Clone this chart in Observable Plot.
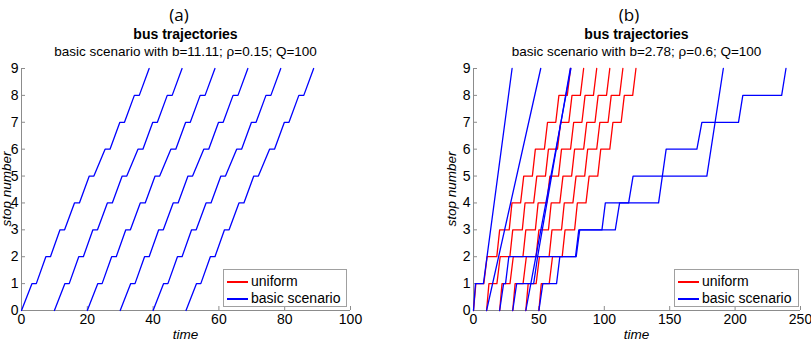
<!DOCTYPE html>
<html>
<head>
<meta charset="utf-8">
<script src="https://cdn.jsdelivr.net/npm/d3@7"></script>
<script src="https://cdn.jsdelivr.net/npm/@observablehq/plot@0.6"></script>
<style>
  body { margin: 0; background: #fff; }
  #fig { position: relative; width: 811px; height: 350px; overflow: hidden; background: #fff;
         font-family: "Liberation Sans", Arial, sans-serif; color: #000; }
  #fig > .panel { position: absolute; top: 0; }
  .txt { position: absolute; white-space: nowrap; line-height: 1; transform: translateX(-50%); }
  .tag { font-family: "Open Sans", "Liberation Sans", sans-serif; font-size: 17px; }
  .ttl { font-weight: bold; font-size: 14px; }
  .sub { font-size: 13.5px; }
  .xlab { font-size: 13.5px; font-style: italic; }
  .ylab { position: absolute; font-size: 13.5px; font-style: italic; white-space: nowrap; line-height: 1;
          transform: translate(-50%, -50%) rotate(-90deg); }
  .legend { position: absolute; border: 1px solid #a0a0a0; background: #fff; font-size: 14px; box-sizing: border-box; }
  .legend .row { position: absolute; left: 0; height: 16px; line-height: 16px; white-space: nowrap; }
  .legend .sw { position: absolute; left: 3px; top: 8px; width: 21px; height: 1.5px; }
  .legend .lb { position: absolute; left: 27px; top: 0; }
</style>
</head>
<body>
<div id="fig"></div>
<script>
// stop sequence of one trajectory: leave stop 0, then arrive/depart at stops 1..8, arrive at 9
const stopSeq = [0, 1, 1, 2, 2, 3, 3, 4, 4, 5, 5, 6, 6, 7, 7, 8, 8, 9];

// (a) basic scenario, b = 11.11 — departure/arrival times per bus, matching stopSeq
const basicA = [
  [0, 3.2, 4.5, 7.4, 8.8, 11.7, 13.1, 16.1, 17.6, 20.6, 22.0, 25.4, 26.9, 29.9, 31.3, 34.3, 35.8, 38.8],
  [10, 13.2, 14.5, 17.4, 18.8, 21.7, 23.1, 26.1, 27.6, 30.6, 32.0, 35.4, 36.9, 39.9, 41.3, 44.3, 45.8, 48.8],
  [20, 23.2, 24.5, 27.4, 28.8, 31.7, 33.1, 36.1, 37.6, 40.6, 42.0, 45.4, 46.9, 49.9, 51.3, 54.3, 55.8, 58.8],
  [30, 33.2, 34.5, 37.4, 38.8, 41.7, 43.1, 46.1, 47.6, 50.6, 52.0, 55.4, 56.9, 59.9, 61.3, 64.3, 65.8, 68.8],
  [40, 43.2, 44.5, 47.4, 48.8, 51.7, 53.1, 56.1, 57.6, 60.6, 62.0, 65.4, 66.9, 69.9, 71.3, 74.3, 75.8, 78.8],
  [50, 53.2, 54.5, 57.4, 58.8, 61.7, 63.1, 66.1, 67.6, 70.6, 72.0, 75.4, 76.9, 79.9, 81.3, 84.3, 85.8, 88.8]
];

// (b) uniform schedule — times per bus, matching stopSeq
const uniformB = [
  [0, 1.8, 7.9, 10.4, 17.8, 20.0, 27.3, 29.4, 36.0, 38.4, 45.0, 47.3, 54.2, 56.6, 62.9, 65.3, 71.7, 74.2],
  [10, 11.8, 17.9, 20.4, 27.8, 30.0, 37.3, 39.4, 46.0, 48.4, 55.0, 57.3, 64.2, 66.6, 72.9, 75.3, 81.7, 84.2],
  [20, 21.8, 27.9, 30.4, 37.8, 40.0, 47.3, 49.4, 56.0, 58.4, 65.0, 67.3, 74.2, 76.6, 82.9, 85.3, 91.7, 94.2],
  [30, 31.8, 37.9, 40.4, 47.8, 50.0, 57.3, 59.4, 66.0, 68.4, 75.0, 77.3, 84.2, 86.6, 92.9, 95.3, 101.7, 104.2],
  [40, 41.8, 47.9, 50.4, 57.8, 60.0, 67.3, 69.4, 76.0, 78.4, 85.0, 87.3, 94.2, 96.6, 102.9, 105.3, 111.7, 114.2],
  [50, 51.8, 57.9, 60.4, 67.8, 70.0, 77.3, 79.4, 86.0, 88.4, 95.0, 97.3, 104.2, 106.6, 112.9, 115.3, 121.7, 124.2]
];

// (b) basic scenario, b = 2.78 — irregular trajectories: times and the stops reached
const basicBTimes = [
  [0, 1.5, 7.6, 29.5],
  [10, 51.4],
  [20, 23.0, 24.5, 27.0, 78.0, 80.5, 98.2, 100.8, 118.6, 122.0, 178.4, 191.0],
  [30, 33.0, 46.0, 49.0, 74.0],
  [40, 74.5],
  [50, 53.0, 63.5, 66.0, 78.5, 81.2, 108.4, 111.7, 141.5, 147.3, 170.8, 174.6, 202.6, 205.9, 235.6, 238.9]
];
const basicBStops = [
  [0, 1, 1, 9],
  [0, 9],
  [0, 1, 1, 2, 2, 3, 3, 4, 4, 5, 5, 9],
  [0, 1, 1, 2, 9],
  [0, 9],
  [0, 1, 1, 2, 2, 3, 3, 4, 4, 6, 6, 7, 7, 8, 8, 9]
];

const ticksA = [0, 20, 40, 60, 80, 100];
const ticksB = [0, 50, 100, 150, 200, 250];
const stopTicks = [0, 1, 2, 3, 4, 5, 6, 7, 8, 9];
const legendLabels = ["uniform", "basic scenario"];
const colors = {uniform: "#ff0000", basic: "#0000ff"};

function rowsFromSeq(table) {
  return table.flatMap((times, bus) => times.map((t, i) => ({t, stop: stopSeq[i], bus})));
}
function rowsFromPairs(timesList, stopsList) {
  return timesList.flatMap((times, bus) => times.map((t, i) => ({t, stop: stopsList[bus][i], bus})));
}

const fig = document.getElementById("fig");

function panel({left, width, marginLeft, marginRight, xDomain, xTicks, layers}) {
  const chart = Plot.plot({
    width, height: 350,
    marginLeft, marginRight, marginTop: 68, marginBottom: 40,
    style: {fontFamily: "'Liberation Sans', Arial, sans-serif", fontSize: "14px", color: "#000", background: "transparent", overflow: "visible"},
    x: {domain: xDomain},
    y: {domain: [0, 9]},
    marks: [
      Plot.ruleY([0], {stroke: "#8c8c8c"}),
      Plot.ruleX([0], {stroke: "#8c8c8c"}),
      Plot.axisX(xTicks, {tickSize: -4, tickPadding: 8, stroke: "#8c8c8c", label: null, fill: "#000"}),
      Plot.axisY(stopTicks, {tickSize: -4, tickPadding: 7, stroke: "#8c8c8c", label: null, fill: "#000"}),
      ...layers.map(({rows, color}) =>
        Plot.line(rows, {x: "t", y: "stop", z: "bus", stroke: color, strokeWidth: 1.3, curve: "linear"}))
    ]
  });
  chart.classList.add("panel");
  chart.style.left = left + "px";
  fig.appendChild(chart);
}

// panel (a)
panel({
  left: 0, width: 405, marginLeft: 21, marginRight: 55,
  xDomain: [0, 100], xTicks: ticksA,
  layers: [{rows: rowsFromSeq(basicA), color: colors.basic}]
});

// panel (b)
panel({
  left: 405, width: 406, marginLeft: 68, marginRight: 11,
  xDomain: [0, 250], xTicks: ticksB,
  layers: [
    {rows: rowsFromSeq(uniformB), color: colors.uniform},
    {rows: rowsFromPairs(basicBTimes, basicBStops), color: colors.basic}
  ]
});

// text around the panels
function addText(cls, text, x, top) {
  const d = document.createElement("div");
  d.className = "txt " + cls;
  d.textContent = text;
  d.style.left = x + "px";
  d.style.top = top + "px";
  fig.appendChild(d);
}
function addYLabel(text, x, y) {
  const d = document.createElement("div");
  d.className = "ylab";
  d.textContent = text;
  d.style.left = x + "px";
  d.style.top = y + "px";
  fig.appendChild(d);
}
function addLegend(left, top, width, height) {
  const box = document.createElement("div");
  box.className = "legend";
  Object.assign(box.style, {left: left + "px", top: top + "px", width: width + "px", height: height + "px"});
  const swatches = [colors.uniform, colors.basic];
  legendLabels.forEach((label, i) => {
    const row = document.createElement("div");
    row.className = "row";
    row.style.top = (3 + i * 17) + "px";
    const sw = document.createElement("div");
    sw.className = "sw";
    sw.style.background = swatches[i];
    const lb = document.createElement("div");
    lb.className = "lb";
    lb.textContent = label;
    row.append(sw, lb);
    box.appendChild(row);
  });
  fig.appendChild(box);
}

addText("tag", "(a)", 179, 6);
addText("ttl", "bus trajectories", 185.5, 27);
addText("sub", "basic scenario with b=11.11; \u03C1=0.15; Q=100", 185.5, 45);
addText("xlab", "time", 185.5, 328);
addYLabel("stop number", 7, 189);
addLegend(223, 269, 124, 38);

addText("tag", "(b)", 629, 6);
addText("ttl", "bus trajectories", 636.5, 27);
addText("sub", "basic scenario with b=2.78; \u03C1=0.6; Q=100", 636.5, 45);
addText("xlab", "time", 636.5, 328);
addYLabel("stop number", 452, 189);
addLegend(674, 269, 125, 38);
</script>
</body>
</html>
